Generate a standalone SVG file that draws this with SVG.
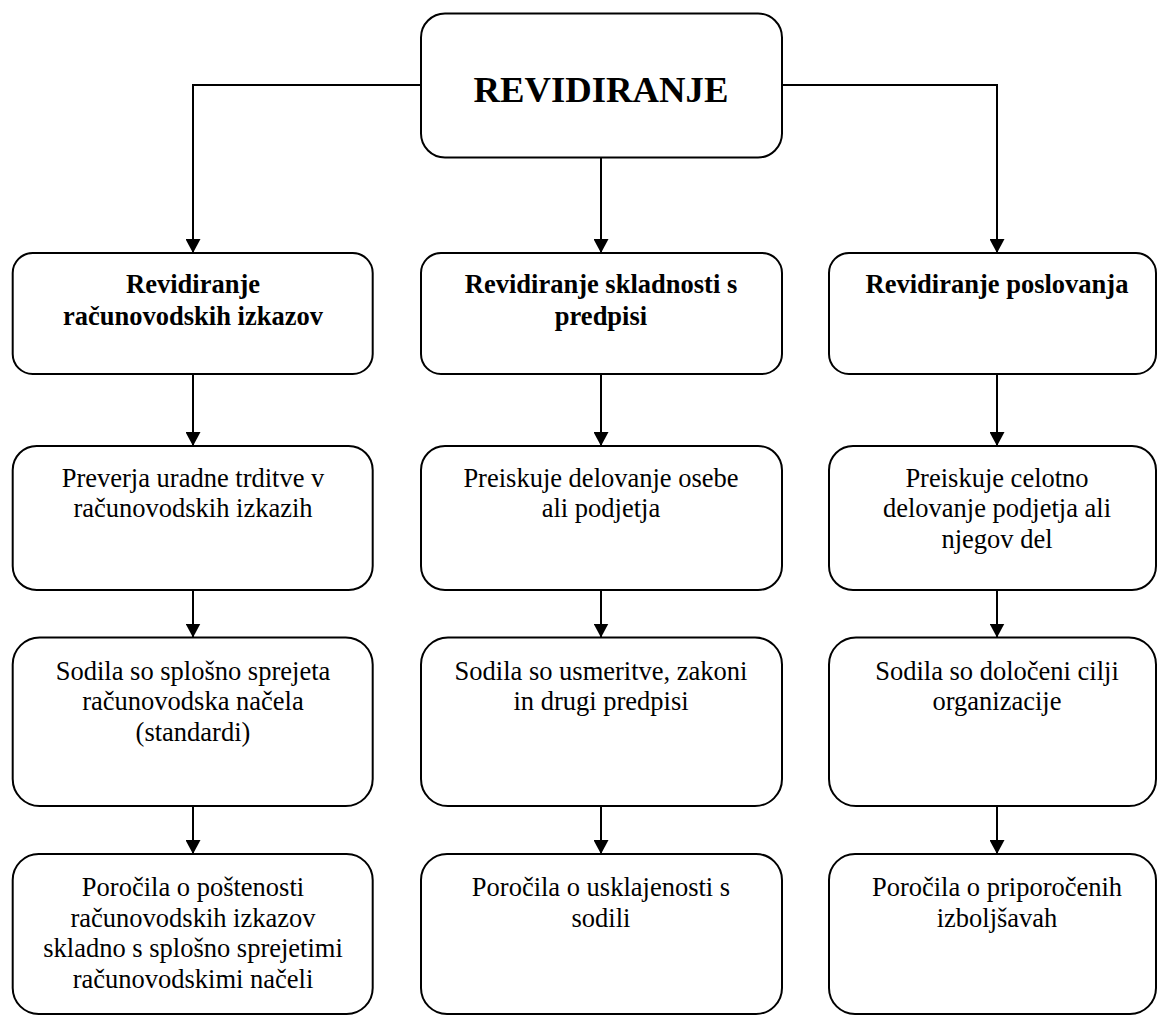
<svg xmlns="http://www.w3.org/2000/svg" width="1157" height="1016" viewBox="0 0 1157 1016">
<style>
.box{fill:#fff;stroke:#000;stroke-width:2}
.t{font-family:"Liberation Serif","Times New Roman",serif;font-size:26.5px;text-anchor:middle;fill:#000}
.b{font-weight:bold}
.title{font-family:"Liberation Serif","Times New Roman",serif;font-size:36.7px;font-weight:bold;text-anchor:middle;fill:#000}
.c{fill:none;stroke:#000;stroke-width:2}
</style>
<defs>
<marker id="ah" markerWidth="14" markerHeight="15" refX="14" refY="7.5" orient="auto" markerUnits="userSpaceOnUse" viewBox="0 0 14 15">
<path d="M0,0 L14,7.5 L0,15 z" fill="#000"/>
</marker>
</defs>
<g id="connectors">
<path class="c" d="M601,157.5 V253" marker-end="url(#ah)"/>
<path class="c" d="M421,85 H193 V253" marker-end="url(#ah)"/>
<path class="c" d="M782,85 H997 V253" marker-end="url(#ah)"/>
<path class="c" d="M193,374 V446" marker-end="url(#ah)"/>
<path class="c" d="M601,374 V446" marker-end="url(#ah)"/>
<path class="c" d="M997,374 V446" marker-end="url(#ah)"/>
<path class="c" d="M193,590 V637.5" marker-end="url(#ah)"/>
<path class="c" d="M601,590 V637.5" marker-end="url(#ah)"/>
<path class="c" d="M997,590 V637.5" marker-end="url(#ah)"/>
<path class="c" d="M193,806 V854" marker-end="url(#ah)"/>
<path class="c" d="M601,806 V854" marker-end="url(#ah)"/>
<path class="c" d="M997,806 V854" marker-end="url(#ah)"/>
</g>
<g id="root">
<rect class="box" x="421" y="13.5" width="361" height="144" rx="24" ry="24"/>
<text class="title" x="601" y="102">REVIDIRANJE</text>
</g>
<g id="l1">
<rect class="box" x="12.7" y="253" width="360" height="121" rx="20" ry="20"/>
<text class="t b" x="193" y="293.3">Revidiranje</text>
<text class="t b" x="193" y="325">računovodskih izkazov</text>
</g>
<g id="m1">
<rect class="box" x="421" y="253" width="361" height="121" rx="20" ry="20"/>
<text class="t b" x="601" y="293.3">Revidiranje skladnosti s</text>
<text class="t b" x="601" y="325">predpisi</text>
</g>
<g id="r1">
<rect class="box" x="829" y="253" width="327" height="121" rx="20" ry="20"/>
<text class="t b" x="997" y="293.3">Revidiranje poslovanja</text>
</g>
<g id="l2">
<rect class="box" x="12.7" y="446" width="360" height="144" rx="24" ry="24"/>
<text class="t" x="193" y="487">Preverja uradne trditve v</text>
<text class="t" x="193" y="517.3">računovodskih izkazih</text>
</g>
<g id="m2">
<rect class="box" x="421" y="446" width="361" height="144" rx="24" ry="24"/>
<text class="t" x="601" y="487">Preiskuje delovanje osebe</text>
<text class="t" x="601" y="517.3">ali podjetja</text>
</g>
<g id="r2">
<rect class="box" x="829" y="446" width="327" height="144" rx="24" ry="24"/>
<text class="t" x="997" y="487">Preiskuje celotno</text>
<text class="t" x="997" y="517.3">delovanje podjetja ali</text>
<text class="t" x="997" y="547.6">njegov del</text>
</g>
<g id="l3">
<rect class="box" x="12.7" y="637.5" width="360" height="168.5" rx="27" ry="27"/>
<text class="t" x="193" y="679.5">Sodila so splošno sprejeta</text>
<text class="t" x="193" y="710.3">računovodska načela</text>
<text class="t" x="193" y="741">(standardi)</text>
</g>
<g id="m3">
<rect class="box" x="421" y="637.5" width="361" height="168.5" rx="27" ry="27"/>
<text class="t" x="601" y="679.5">Sodila so usmeritve, zakoni</text>
<text class="t" x="601" y="710.3">in drugi predpisi</text>
</g>
<g id="r3">
<rect class="box" x="829" y="637.5" width="327" height="168.5" rx="27" ry="27"/>
<text class="t" x="997" y="679.5">Sodila so določeni cilji</text>
<text class="t" x="997" y="710.3">organizacije</text>
</g>
<g id="l4">
<rect class="box" x="12.7" y="854" width="360" height="160" rx="26" ry="26"/>
<text class="t" x="193" y="896">Poročila o poštenosti</text>
<text class="t" x="193" y="926.5">računovodskih izkazov</text>
<text class="t" x="193" y="957">skladno s splošno sprejetimi</text>
<text class="t" x="193" y="987.5">računovodskimi načeli</text>
</g>
<g id="m4">
<rect class="box" x="421" y="854" width="361" height="160" rx="26" ry="26"/>
<text class="t" x="601" y="896">Poročila o usklajenosti s</text>
<text class="t" x="601" y="926.5">sodili</text>
</g>
<g id="r4">
<rect class="box" x="829" y="854" width="327" height="160" rx="26" ry="26"/>
<text class="t" x="997" y="896">Poročila o priporočenih</text>
<text class="t" x="997" y="926.5">izboljšavah</text>
</g>
</svg>
